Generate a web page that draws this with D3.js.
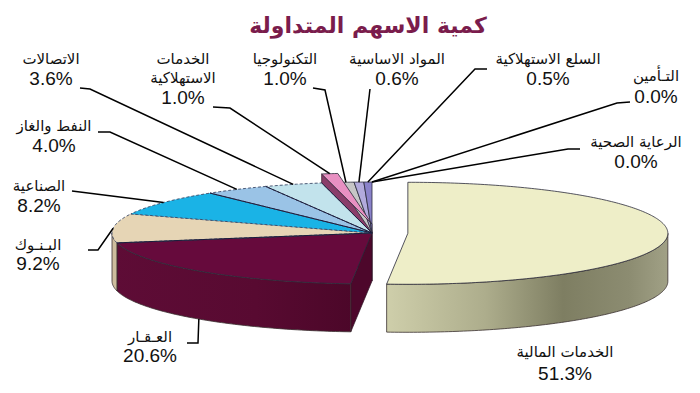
<!DOCTYPE html>
<html><head><meta charset="utf-8">
<script src="https://cdn.jsdelivr.net/npm/d3@7"></script>
<style>body{margin:0;background:#fff}svg{display:block}</style>
</head><body>
<script>
// ---------- data ----------
const chartTitle = "كمية الاسهم المتداولة";
const categories = ["الخدمات المالية","العـقـار","البـنـوك","الصناعية","النفط والغاز","الاتصالات","الخدمات الاستهلاكية","التكنولوجيا","المواد الاساسية","السلع الاستهلاكية","التـأمين","الرعاية الصحية"];
const values = [51.3, 20.6, 9.2, 8.2, 4.0, 3.6, 1.0, 1.0, 0.6, 0.5, 0.0, 0.0];

// ---------- styles ----------
const topColors  = ["#eeeec8","#660a3c","#e6d5b5","#1ab3e6","#9ac3e6","#c2e3ec","#e890c2","#c6c6c6","#b2aadc","#8a82ca","#9999cc","#ccccff"];
const wallColors = ["#b0b08e","#560830","#cdbd9d","#1590bb","#7ea3c4","#a3c3cc","#9a4476","#a0a0a0","#8a84b8","#6a64a8","#7777aa","#aaaadd"];
const explode = [0.138,0,0,0,0,0,0,0,0,0,0,0];
const lift    = [0,0,0,0,0,0,9,0,0,0,0,0];
const dashed  = [false,false,true,true,true,true,false,false,false,false,false,false];
// label layout: [centre x, name baseline, percent baseline]
const labelPos = [[565,357,380],[150,342,362],[38,250,270],[39,191,212],[54,131,152],[51,64,85],[183,64,104],[285,64,85],[397,64,85],[548,64,85],[656,81,103],[636,147,168]];
// leader: start point, elbow point (or null), anchor on slice ('top' rim or 'wall' bottom)
const leaders = [null,
  {s:[187,343],e:[198,343],a:"wall"},
  {s:[88,250],e:[98,250],a:"top"},
  {s:[72,191],e:null,a:"top"},
  {s:[98,132],e:[110,132],a:"top"},
  {s:[80,88],e:[90,89],a:"top"},
  {s:[213,107],e:[230,108],a:"top"},
  {s:[313,88],e:[325,90],a:"top"},
  {s:[370,89],e:null,a:"top"},
  {s:[487,69],e:[475,69],a:"top"},
  {s:[630,102],e:[617,103],a:"top"},
  {s:[580,149],e:[568,149],a:"top"}];

const W=700,H=393;
const cx=372, cy=233, rx=260, ry=51, depth=48;

const svg = d3.select("body").append("svg").attr("width",W).attr("height",H);
const defs = svg.append("defs");
const g1 = defs.append("linearGradient").attr("id","finWall").attr("gradientUnits","userSpaceOnUse")
  .attr("x1",385).attr("x2",672).attr("y1",0).attr("y2",0);
[[0,"#cfcfab"],[0.35,"#adad8c"],[0.62,"#7e7e62"],[0.85,"#8c8c71"],[1,"#a3a388"]].forEach(s=>g1.append("stop").attr("offset",s[0]).attr("stop-color",s[1]));
const g2 = defs.append("linearGradient").attr("id","reWall").attr("gradientUnits","userSpaceOnUse")
  .attr("x1",112).attr("x2",352).attr("y1",0).attr("y2",0);
[[0,"#5e0c36"],[0.6,"#580a31"],[1,"#4c0729"]].forEach(s=>g2.append("stop").attr("offset",s[0]).attr("stop-color",s[1]));

const data = categories.map((c,i)=>({name:c,value:values[i],i}));
const arcs = d3.pie().sort(null).value(d=>d.value)(data);

function off(i){
  const a=arcs[i], mid=(a.startAngle+a.endAngle)/2, e=explode[i];
  return {dx:e*rx*Math.sin(mid), dy:-e*ry*Math.cos(mid)-lift[i]};
}
function pt(phi,r,z,o){ return [cx+o.dx+r*rx*Math.sin(phi), cy+o.dy-r*ry*Math.cos(phi)+z]; }
function arcPts(a0,a1,z,o){
  const n=Math.max(2,Math.ceil(Math.abs(a1-a0)/0.015));
  return d3.range(n+1).map(k=>pt(a0+(a1-a0)*k/n,1,z,o));
}
const line = d3.line();
const closed = pts => line(pts)+"Z";

const gCuts = svg.append("g"), gWalls = svg.append("g"), gTops = svg.append("g"), gLift = svg.append("g"), gLab = svg.append("g");

// collect visible cut faces, then paint back to front
const cuts = [];
function cutFace(i, angle, isStart, color){
  const o=off(i);
  const nphi = isStart ? angle-Math.PI/2 : angle+Math.PI/2;
  if (Math.cos(nphi) >= -0.001) return;
  const z1 = depth + lift[i];
  cuts.push({depthKey:Math.cos(angle), pts:[pt(angle,0,0,o),pt(angle,1,0,o),pt(angle,1,z1,o),pt(angle,0,z1,o)], color});
}

arcs.forEach((a,i)=>{
  if (a.endAngle-a.startAngle<=0) return;
  const prev = arcs[(i-1+arcs.length)%arcs.length], next = arcs[(i+1)%arcs.length];
  const cutCol = d3.color(wallColors[i]).darker(0.3);
  if (explode[i]!==explode[prev.index]||lift[i]!==lift[prev.index]||explode[i]>0) cutFace(i,a.startAngle,true,cutCol);
  if (explode[i]!==explode[next.index]||lift[i]!==lift[next.index]||explode[i]>0) cutFace(i,a.endAngle,false,cutCol);
  const o=off(i);
  const s=Math.max(a.startAngle,Math.PI/2), e=Math.min(a.endAngle,3*Math.PI/2);
  if (e>s){
    const pts=arcPts(s,e,0,o).concat(arcPts(e,s,depth+lift[i],o));
    const fill = i===0 ? "url(#finWall)" : (i===1 ? "url(#reWall)" : wallColors[i]);
    gWalls.append("path").attr("d",closed(pts)).attr("fill",fill).attr("stroke","#3a3030").attr("stroke-width",0.8);
  }
  const tpts=[pt(0,0,0,o)].concat(arcPts(a.startAngle,a.endAngle,0,o));
  const tg = lift[i]>0 ? gLift : gTops;
  tg.append("path").attr("d",closed(tpts)).attr("fill",topColors[i])
    .attr("stroke", dashed[i] ? "#3c4a68" : "#2a2a3a")
    .attr("stroke-width", dashed[i] ? 0.9 : 0.8)
    .attr("stroke-dasharray", dashed[i] ? "3,2" : null)
    .attr("stroke-linejoin","round");
});
cuts.sort((p,q)=>q.depthKey-p.depthKey).forEach(c=>{
  gCuts.append("path").attr("d",closed(c.pts)).attr("fill",c.color).attr("stroke","#2a1020").attr("stroke-width",0.7);
});
[1,3,4,5].forEach(i=>{
  const a=arcs[i], o=off(i);
  gTops.append("path").attr("d",line([pt(a.endAngle,0,0,o),pt(a.endAngle,1,0,o)]))
    .attr("stroke","#1c1c3c").attr("stroke-width",1).attr("fill","none");
});

svg.append("text").attr("x",368).attr("y",33).attr("text-anchor","middle")
  .attr("font-family","DejaVu Sans, sans-serif").attr("font-weight","bold").attr("font-size",22)
  .attr("fill","#7a1c4c").text(chartTitle);

arcs.forEach((a,i)=>{
  const L=leaders[i];
  if (L){
    const o=off(i), mid=(a.startAngle+a.endAngle)/2;
    const end = pt(mid,1,L.a==="wall"?depth:0,o);
    const pts=[L.s].concat(L.e?[L.e]:[]).concat([end]);
    gLab.append("path").attr("d",line(pts)).attr("fill","none").attr("stroke","#000").attr("stroke-width",1.5);
  }
  const [x,yn,yp]=labelPos[i];
  const nm = categories[i];
  const parts = (i===6) ? nm.split(" ") : [nm];
  parts.forEach((p,k)=>{
    gLab.append("text").attr("x",x).attr("y", parts.length>1 ? yn + k*19 : yn).attr("text-anchor","middle")
      .attr("font-family","DejaVu Sans, sans-serif").attr("font-size",15).attr("fill","#111").text(p);
  });
  gLab.append("text").attr("x",x).attr("y",yp).attr("text-anchor","middle")
    .attr("font-family","Liberation Sans, Arial, sans-serif").attr("font-size",19).attr("fill","#111")
    .text(d3.format(".1f")(values[i])+"%");
});
</script>
</body></html>
